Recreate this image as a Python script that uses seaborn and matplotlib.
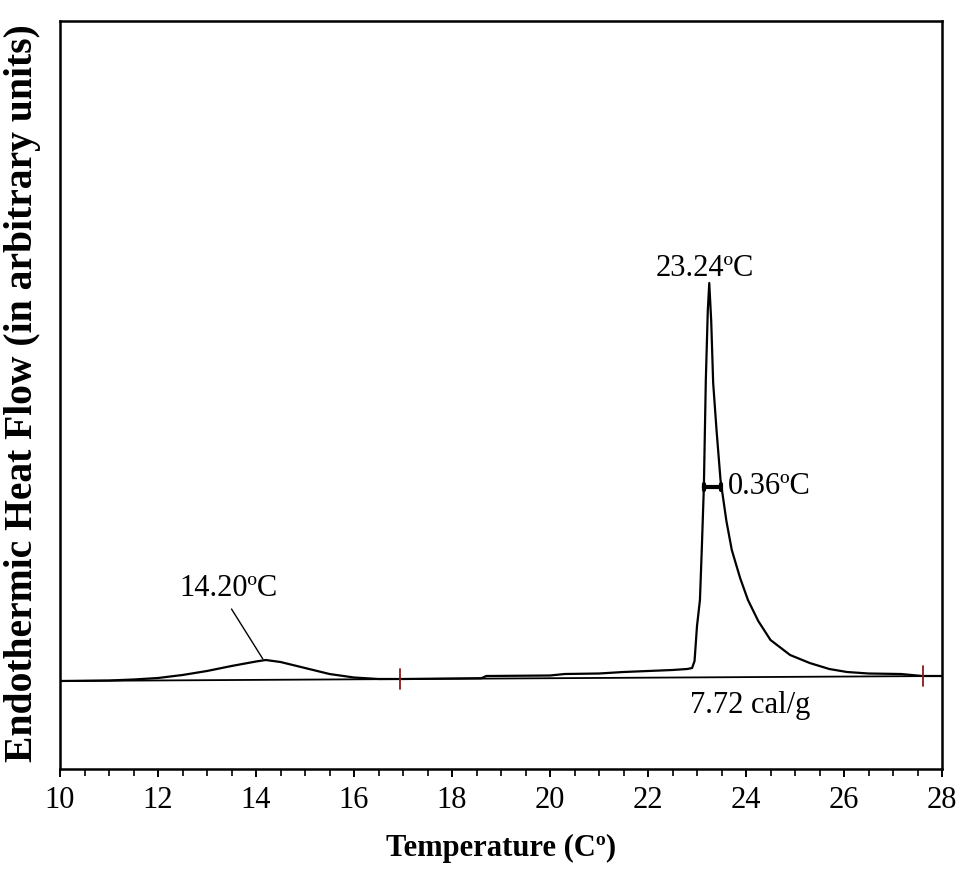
import matplotlib
matplotlib.use("Agg")
import matplotlib.pyplot as plt
import seaborn as sns
import pandas as pd
from matplotlib.ticker import MultipleLocator

# ---- data ----
temperature = [10.0, 11.0, 11.5, 12.0, 12.5, 13.0, 13.5, 14.0, 14.2, 14.5, 15.0, 15.5,
               16.0, 16.5, 17.0, 18.0, 18.6, 18.7, 20.0, 20.3, 21.0, 21.5, 22.0, 22.5,
               22.8, 22.9, 22.95, 23.0, 23.06, 23.1, 23.14, 23.18, 23.22, 23.25, 23.29,
               23.33, 23.4, 23.48, 23.6, 23.71, 23.88, 24.04, 24.25, 24.5, 24.9, 25.3,
               25.7, 26.06, 26.5, 27.16, 27.6, 28.0]
heat_flow = [0, 0.5, 1.5, 3, 6, 10, 15, 19.5, 21, 19, 13, 7,
             3.5, 2, 2, 2.5, 2.8, 5, 5.5, 7, 7.5, 9, 10, 11,
             12, 13, 20, 55, 81, 135, 194, 301, 370, 398, 360,
             298, 250, 201, 160, 131, 103, 81, 60, 41, 26, 18,
             12, 9, 7.5, 7, 5, 5]
baseline_x = [10.0, 28.0]
baseline_y = [0.0, 5.0]
integration_limits = [16.94, 27.61]
peak_labels = ["14.20\u00baC", "23.24\u00baC"]
width_label = "0.36\u00baC"
width_limits = [23.14, 23.48]
enthalpy_label = "7.72 cal/g"
x_ticks = [10, 12, 14, 16, 18, 20, 22, 24, 26, 28]

df = pd.DataFrame({"Temperature": temperature, "HeatFlow": heat_flow})

sns.set_style("white")
plt.rcParams["font.family"] = ["Liberation Serif", "DejaVu Serif"]
plt.rcParams["text.color"] = "black"
plt.rcParams["axes.labelcolor"] = "black"
plt.rcParams["xtick.color"] = "black"

fig = plt.figure(figsize=(9.63, 8.69), dpi=100)
ax = fig.add_axes([60 / 963, 1 - 769 / 869, (942 - 60) / 963, (769 - 21) / 869])

# baseline
sns.lineplot(x=baseline_x, y=baseline_y, ax=ax, color="black", linewidth=1.3, estimator=None)
# curve
sns.lineplot(data=df, x="Temperature", y="HeatFlow", ax=ax, color="black",
             linewidth=1.6, estimator=None, sort=False)

# integration limit marks on the baseline
for t in integration_limits:
    yb = baseline_y[0] + (baseline_y[1] - baseline_y[0]) * (t - baseline_x[0]) / (baseline_x[1] - baseline_x[0])
    ax.plot([t, t], [yb - 10, yb + 10], color="#8b1a1a", linewidth=1.3)

# half-width marker
ax.annotate("", xy=(width_limits[0], 194), xytext=(width_limits[1], 194),
            arrowprops=dict(arrowstyle="|-|,widthA=0.25,widthB=0.25", lw=3, color="black",
                            shrinkA=0, shrinkB=0))
ax.text(23.63, 194, width_label, fontsize=22, ha="left", va="center")

# peak labels
ax.text(23.16, 413, peak_labels[1], fontsize=22, ha="center", va="center")
ax.text(13.43, 93, peak_labels[0], fontsize=22, ha="center", va="center")
ax.plot([13.50, 14.14], [72, 22], color="black", linewidth=1.0)
ax.text(24.08, -24, enthalpy_label, fontsize=22, ha="center", va="center")

ax.set_xlim(10, 28)
ax.set_ylim(-88, 660)
ax.set_xticks(x_ticks)
ax.xaxis.set_minor_locator(MultipleLocator(0.5))
ax.set_yticks([])
ax.tick_params(axis="x", which="major", direction="out", length=6, width=1.4,
               labelsize=22, pad=6, bottom=True, colors="black")
ax.tick_params(axis="x", which="minor", direction="out", length=5, width=1.2, bottom=True,
               colors="black")
for s in ax.spines.values():
    s.set_linewidth(1.8)
    s.set_color("black")

ax.set_xlabel("Temperature (C\u00ba)", fontsize=22, fontweight="bold", labelpad=14)
ax.set_ylabel("Endothermic Heat Flow (in arbitrary units)", fontsize=28.5, fontweight="bold")
ax.yaxis.set_label_coords(-0.021, 0.503)

fig.savefig("out.png", dpi=100)
